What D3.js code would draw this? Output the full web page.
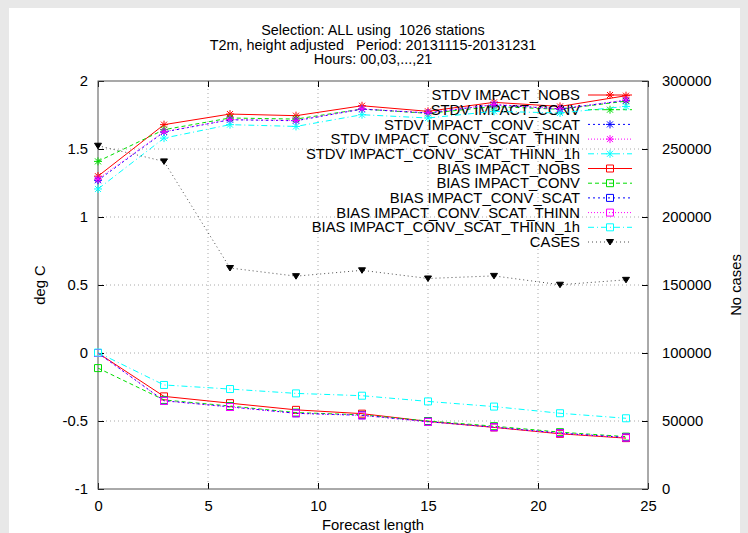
<!DOCTYPE html>
<html>
<head>
<meta charset="utf-8">
<script src="https://cdn.jsdelivr.net/npm/d3@7"></script>
<style>
  body { margin: 0; background: #e8e8e8; }
  svg { display: block; font-family: "Liberation Sans", Arial, sans-serif; }
  text { white-space: pre; }
</style>
</head>
<body>
<svg width="748" height="533"></svg>
<script>
var width = 748;
var height = 533;

// forecast length (hours)
var hours = [0, 3, 6, 9, 12, 15, 18, 21, 24];

var stdvNobs    = [1.30, 1.679, 1.757, 1.745, 1.818, 1.777, 1.843, 1.813, 1.892];
var stdvConv    = [1.409, 1.642, 1.728, 1.720, 1.794, 1.762, 1.812, 1.792, 1.852];
var stdvScat    = [1.270, 1.625, 1.715, 1.708, 1.793, 1.765, 1.826, 1.794, 1.857];
var stdvThinn   = [1.279, 1.627, 1.716, 1.709, 1.795, 1.766, 1.828, 1.795, 1.860];
var stdvThinn1h = [1.206, 1.580, 1.679, 1.666, 1.752, 1.728, 1.777, 1.765, 1.813];

var biasNobs    = [0.0, -0.319, -0.369, -0.418, -0.446, -0.503, -0.547, -0.594, -0.626];
var biasConv    = [-0.111, -0.345, -0.390, -0.438, -0.455, -0.500, -0.538, -0.582, -0.615];
var biasScat    = [0.0, -0.351, -0.396, -0.443, -0.458, -0.505, -0.545, -0.589, -0.621];
var biasThinn   = [0.0, -0.352, -0.397, -0.444, -0.459, -0.506, -0.546, -0.590, -0.622];
var biasThinn1h = [0.003, -0.235, -0.265, -0.297, -0.314, -0.356, -0.394, -0.443, -0.480];

var cases = [252400, 240900, 162500, 156500, 160800, 154800, 156700, 150200, 153800];

var titleLines = ['Selection: ALL using  1026 stations',
                  'T2m, height adjusted   Period: 20131115-20131231',
                  'Hours: 00,03,...,21'];

var xTicks = [0, 5, 10, 15, 20, 25];
var yTicks = [-1, -0.5, 0, 0.5, 1, 1.5, 2];
var y2Ticks = [0, 50000, 100000, 150000, 200000, 250000, 300000];

var plotL = 98, plotR = 648, plotT = 81, plotB = 489;
var fontSize = '14.8px';

var svg = d3.select('svg');

svg.append('rect').attr('x', 0).attr('y', 0).attr('width', width).attr('height', height).attr('fill', '#e8e8e8');
svg.append('rect').attr('x', 9).attr('y', 8).attr('width', 731).attr('height', height).attr('fill', '#fff');

var xScale = d3.scaleLinear().domain([0, 25]).range([plotL, plotR]);
var yScale = d3.scaleLinear().domain([-1, 2]).range([plotB, plotT]);
var y2Scale = d3.scaleLinear().domain([0, 300000]).range([plotB, plotT]);

// grid
svg.append('g').selectAll('line')
    .data(xTicks.slice(1, -1))
    .enter().append('line')
    .attr('x1', d => xScale(d)).attr('x2', d => xScale(d))
    .attr('y1', plotT).attr('y2', plotB)
    .attr('stroke', '#a8a8a8').attr('stroke-dasharray', '1,3');

svg.append('g').selectAll('line')
    .data(yTicks.slice(1, -1))
    .enter().append('line')
    .attr('x1', plotL).attr('x2', plotR)
    .attr('y1', d => yScale(d)).attr('y2', d => yScale(d))
    .attr('stroke', '#a8a8a8').attr('stroke-dasharray', '1,3');

// axes
function styleAxis(g) {
  g.select('.domain').remove();
  g.selectAll('.tick line').attr('stroke', '#000');
  g.selectAll('.tick text').attr('fill', '#000').style('font-size', fontSize)
    .style('font-family', '"Liberation Sans", Arial, sans-serif');
}

svg.append('g')
    .attr('transform', 'translate(0,' + plotB + ')')
    .call(d3.axisBottom(xScale).tickValues(xTicks).tickSize(-6).tickPadding(11))
    .call(styleAxis);

svg.append('g')
    .attr('transform', 'translate(0,' + plotT + ')')
    .call(d3.axisTop(xScale).tickValues(xTicks).tickSize(-6).tickFormat(''))
    .call(styleAxis);

// gnuplot style labels, plain hyphen for negatives
svg.append('g')
    .attr('transform', 'translate(' + plotL + ',0)')
    .call(d3.axisLeft(yScale).tickValues(yTicks).tickSize(-6).tickPadding(10).tickFormat(d => String(d)))
    .call(styleAxis);

svg.append('g')
    .attr('transform', 'translate(' + plotR + ',0)')
    .call(d3.axisRight(y2Scale).tickValues(y2Ticks).tickSize(-6).tickPadding(14).tickFormat(d => String(d)))
    .call(styleAxis);

// border
svg.append('rect')
    .attr('x', plotL).attr('y', plotT)
    .attr('width', plotR - plotL).attr('height', plotB - plotT)
    .attr('fill', 'none').attr('stroke', '#555').attr('stroke-width', 1);

// labels
svg.append('g').selectAll('text')
    .data(titleLines)
    .enter().append('text')
    .text(d => d)
    .attr('x', (plotL + plotR) / 2)
    .attr('y', (d, i) => 35 + i * 14.6)
    .attr('text-anchor', 'middle')
    .style('font-size', '14.4px');

svg.append('text')
    .text('Forecast length')
    .attr('x', (plotL + plotR) / 2)
    .attr('y', 530)
    .attr('text-anchor', 'middle')
    .style('font-size', fontSize);

svg.append('text')
    .text('deg C')
    .attr('transform', 'translate(45,' + ((plotT + plotB) / 2) + ') rotate(-90)')
    .attr('text-anchor', 'middle')
    .style('font-size', fontSize);

svg.append('text')
    .text('No cases')
    .attr('transform', 'translate(741,' + ((plotT + plotB) / 2) + ') rotate(-90)')
    .attr('text-anchor', 'middle')
    .style('font-size', fontSize);

// series
var star = 'M-4,0H4M0,-4V4M-3,-3L3,3M-3,3L3,-3';
var square = 'M-3.5,-3.5H3.5V3.5H-3.5Z';
var triangle = 'M-3.5,-2.5H3.5L0,3Z';

var series = [
  {name: 'STDV IMPACT_NOBS', values: stdvNobs, color: '#ff0000', dash: null, marker: star, axis: yScale},
  {name: 'STDV IMPACT_CONV', values: stdvConv, color: '#00dd00', dash: '4,3', marker: star, axis: yScale},
  {name: 'STDV IMPACT_CONV_SCAT', values: stdvScat, color: '#0000ff', dash: '2,3', marker: star, axis: yScale},
  {name: 'STDV IMPACT_CONV_SCAT_THINN', values: stdvThinn, color: '#ff00ff', dash: '1,2', marker: star, axis: yScale},
  {name: 'STDV IMPACT_CONV_SCAT_THINN_1h', values: stdvThinn1h, color: '#00ffff', dash: '6,3,1,3', marker: star, axis: yScale},
  {name: 'BIAS IMPACT_NOBS', values: biasNobs, color: '#ff0000', dash: null, marker: square, axis: yScale},
  {name: 'BIAS IMPACT_CONV', values: biasConv, color: '#00dd00', dash: '4,3', marker: square, axis: yScale},
  {name: 'BIAS IMPACT_CONV_SCAT', values: biasScat, color: '#0000ff', dash: '2,3', marker: square, axis: yScale},
  {name: 'BIAS IMPACT_CONV_SCAT_THINN', values: biasThinn, color: '#ff00ff', dash: '1,2', marker: square, axis: yScale},
  {name: 'BIAS IMPACT_CONV_SCAT_THINN_1h', values: biasThinn1h, color: '#00ffff', dash: '6,3,1,3', marker: square, axis: yScale},
  {name: 'CASES', values: cases, color: '#000', dash: '1,3', marker: triangle, axis: y2Scale, filled: true}
];

series.forEach(function(s, k) {
  var line = d3.line()
      .x((d, i) => xScale(hours[i]))
      .y(d => s.axis(d));

  svg.append('path')
      .datum(s.values)
      .attr('d', line)
      .attr('fill', 'none')
      .attr('stroke', s.color)
      .attr('stroke-opacity', s.filled ? 0.7 : 1)
      .attr('stroke-width', 1)
      .attr('stroke-dasharray', s.dash);

  svg.append('g').selectAll('path')
      .data(s.values)
      .enter().append('path')
      .attr('d', s.marker)
      .attr('transform', (d, i) => 'translate(' + xScale(hours[i]) + ',' + s.axis(d) + ')')
      .attr('fill', s.filled ? s.color : 'none')
      .attr('stroke', s.color)
      .attr('stroke-width', 1);

  // legend row
  var ly = 95 + k * 14.7;
  svg.append('text')
      .text(s.name)
      .attr('x', 580)
      .attr('y', ly)
      .attr('dy', '0.35em')
      .attr('text-anchor', 'end')
      .style('font-size', fontSize);
  svg.append('line')
      .attr('x1', 588).attr('x2', 632)
      .attr('y1', ly).attr('y2', ly)
      .attr('stroke', s.color)
      .attr('stroke-opacity', s.filled ? 0.7 : 1)
      .attr('stroke-dasharray', s.dash);
  svg.append('path')
      .attr('d', s.marker)
      .attr('transform', 'translate(610,' + ly + ')')
      .attr('fill', s.filled ? s.color : 'none')
      .attr('stroke', s.color);
});
</script>
</body>
</html>
